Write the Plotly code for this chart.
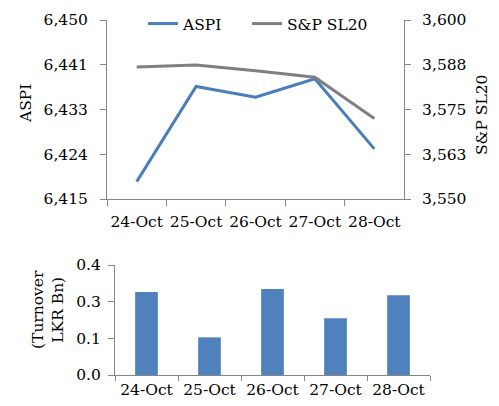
import plotly.graph_objects as go

dates = ["24-Oct", "25-Oct", "26-Oct", "27-Oct", "28-Oct"]
aspi = [6418.4, 6437.0, 6434.9, 6438.5, 6424.8]
spsl20 = [3586.9, 3587.4, 3585.8, 3584.0, 3572.5]
turnover = [0.302, 0.137, 0.313, 0.206, 0.290]

aspi_ticks = [6415, 6423.75, 6432.5, 6441.25, 6450]
aspi_ticktext = ["6,415", "6,424", "6,433", "6,441", "6,450"]
sp_ticks = [3550, 3562.5, 3575, 3587.5, 3600]
sp_ticktext = ["3,550", "3,563", "3,575", "3,588", "3,600"]
to_ticks = [0, 0.4 / 3, 0.8 / 3, 0.4]
to_ticktext = ["0.0", "0.1", "0.3", "0.4"]

# page body has an 8px margin on each side; figure sized to fit the 499x406 window
OFF = 8
W, H = 499 - 2 * OFF, 406 - 2 * OFF
FONT = "DejaVu Serif"
AX = "#868686"
fs = 15.5

def px(x):
    return (x - OFF) / W

def py(y):
    return (H - (y - OFF)) / H

tf = dict(family=FONT, size=fs, color="black")

fig = go.Figure()
fig.add_trace(go.Scatter(x=dates, y=aspi, name="ASPI", mode="lines", legend="legend",
                         line=dict(color="#4a7ebb", width=3), xaxis="x", yaxis="y"))
fig.add_trace(go.Scatter(x=dates, y=spsl20, name="S&P SL20", mode="lines", legend="legend2",
                         line=dict(color="#7f7f7f", width=3), xaxis="x", yaxis="y2"))
fig.add_trace(go.Bar(x=dates, y=turnover, name="Turnover", showlegend=False,
                     marker=dict(color="#4f81bd", line=dict(width=0)), width=0.36,
                     xaxis="x2", yaxis="y3"))

common_x = dict(type="category", showline=True, linecolor=AX, linewidth=1,
                ticks="outside", tickcolor=AX, tickson="boundaries",
                showgrid=False, zeroline=False, tickangle=0, automargin=False,
                tickfont=tf)
common_y = dict(showline=True, linecolor=AX, ticks="outside", tickcolor=AX,
                ticklen=6, showgrid=False, zeroline=False, automargin=False,
                tickfont=tf)
leg = dict(orientation="h", xanchor="left", yanchor="top",
           bgcolor="rgba(0,0,0,0)", font=dict(family=FONT, size=fs))

fig.update_layout(
    width=W, height=H, margin=dict(l=0, r=0, t=0, b=0, autoexpand=False),
    paper_bgcolor="white", plot_bgcolor="white",
    font=dict(family=FONT, size=fs, color="black"),
    xaxis=dict(domain=[px(107), px(404)], anchor="y", range=[-0.5, 4.5],
               ticklen=6, ticklabelstandoff=8, **common_x),
    yaxis=dict(domain=[py(199), py(20)], range=[6415, 6450], tickvals=aspi_ticks,
               ticktext=aspi_ticktext, ticklabelstandoff=9, **common_y),
    yaxis2=dict(overlaying="y", side="right", anchor="x", range=[3550, 3600],
                tickvals=sp_ticks, ticktext=sp_ticktext, ticklabelstandoff=8, **common_y),
    xaxis2=dict(domain=[px(115), px(430)], anchor="y3", range=[-0.5, 4.5],
                ticklen=5, ticklabelstandoff=0, **common_x),
    yaxis3=dict(domain=[py(375), py(265)], anchor="x2", range=[0, 0.4],
                tickvals=to_ticks, ticktext=to_ticktext, ticklabelstandoff=4, **common_y),
    legend=dict(x=px(143), y=py(7), **leg),
    legend2=dict(x=px(247), y=py(7), **leg),
    showlegend=True,
    annotations=[
        dict(text="ASPI", x=px(26), y=py(104), xref="paper", yref="paper",
             xanchor="center", yanchor="middle",
             showarrow=False, textangle=-90, font=dict(family=FONT, size=fs)),
        dict(text="S&P SL20", x=px(482), y=py(115), xref="paper", yref="paper",
             xanchor="center", yanchor="middle",
             showarrow=False, textangle=-90, font=dict(family=FONT, size=fs)),
        dict(text="(Turnover<br>LKR Bn)", x=px(48), y=py(310), xref="paper", yref="paper",
             xanchor="center", yanchor="middle",
             showarrow=False, textangle=-90, font=dict(family=FONT, size=fs)),
    ],
)

fig.write_html("out.html")
